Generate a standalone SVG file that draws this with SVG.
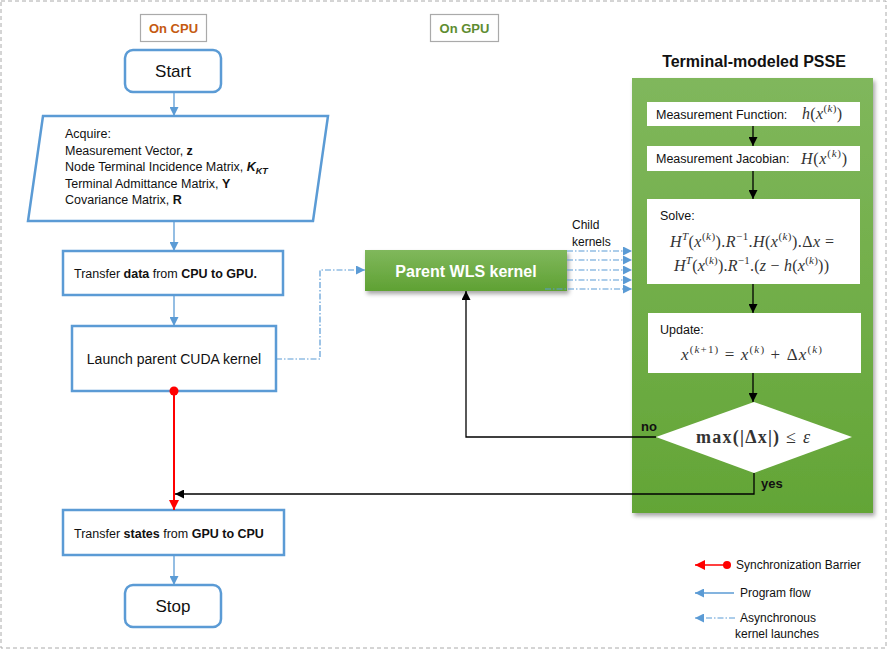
<svg xmlns="http://www.w3.org/2000/svg" width="890" height="650" viewBox="0 0 890 650">
<defs>
<style>
text{font-family:"Liberation Sans",Arial,sans-serif;fill:#111}
.b{font-weight:bold}
.lbl{font-size:12.5px}
.m{font-family:"Liberation Serif","Times New Roman",serif;font-size:16px;fill:#333}
.i{font-style:italic}
.sup{font-size:11px}
.flow{fill:#fff;stroke:#5B9BD5;stroke-width:2.5}
.cpuline{stroke:#5B9BD5;stroke-width:1.3;fill:none}
.dd{stroke:#5B9BD5;stroke-width:1.2;fill:none;stroke-dasharray:6 2 1.5 2}
.blk{stroke:#000;stroke-width:1.3;fill:none}
.wbox{fill:#fff}
</style>
<marker id="ab" viewBox="0 0 10 10" refX="10" refY="5" markerWidth="9" markerHeight="9" markerUnits="userSpaceOnUse" orient="auto"><path d="M0,0L10,5L0,10z" fill="#5B9BD5"/></marker>
<marker id="ak" viewBox="0 0 10 10" refX="10" refY="5" markerWidth="9" markerHeight="9" markerUnits="userSpaceOnUse" orient="auto"><path d="M0,0L10,5L0,10z" fill="#000"/></marker>
<marker id="ar" viewBox="0 0 10 10" refX="10" refY="5" markerWidth="10" markerHeight="10" markerUnits="userSpaceOnUse" orient="auto"><path d="M0,0L10,5L0,10z" fill="#FF0000"/></marker>
<linearGradient id="gp" x1="0" y1="0" x2="0" y2="1"><stop offset="0" stop-color="#80B85C"/><stop offset="1" stop-color="#5FA133"/></linearGradient>
<linearGradient id="gb" x1="0" y1="0" x2="0" y2="1"><stop offset="0" stop-color="#80B75C"/><stop offset="1" stop-color="#63A536"/></linearGradient>
<filter id="sh" x="-10%" y="-10%" width="130%" height="130%"><feDropShadow dx="2" dy="3" stdDeviation="2" flood-color="#000" flood-opacity="0.35"/></filter>
</defs>

<rect x="1" y="1" width="885" height="647" fill="#fff" stroke="#AAAAAA" stroke-width="1" stroke-dasharray="4 3"/>

<g id="label-cpu"><rect x="140.5" y="14.5" width="66" height="27" fill="#fff" stroke="#AAAAAA" stroke-width="1.2"/><text x="173.5" y="33" text-anchor="middle" class="b" font-size="13" style="fill:#C55A11">On CPU</text></g>
<g id="label-gpu"><rect x="430.5" y="14.5" width="68" height="27" fill="#fff" stroke="#AAAAAA" stroke-width="1.2"/><text x="464.5" y="33" text-anchor="middle" class="b" font-size="13" style="fill:#5E8C31">On GPU</text></g>

<g id="start"><rect class="flow" x="125" y="50" width="96" height="42" rx="8"/><text x="173" y="77" text-anchor="middle" font-size="17">Start</text></g>

<g id="acquire"><path class="flow" d="M43,116 L328,116 L313,221 L28,221 Z"/>
<text class="lbl" x="65" y="138">Acquire:</text>
<text class="lbl" x="65" y="155">Measurement Vector, <tspan class="b">z</tspan></text>
<text class="lbl" x="65" y="171">Node Terminal  Incidence Matrix, <tspan class="b i">K</tspan><tspan class="b i" font-size="9" dy="3">KT</tspan></text>
<text class="lbl" x="65" y="188">Terminal Admittance Matrix, <tspan class="b">Y</tspan></text>
<text class="lbl" x="65" y="204">Covariance Matrix, <tspan class="b">R</tspan></text>
</g>

<g id="transfer-in"><rect class="flow" x="63" y="251" width="220" height="44"/><text class="lbl" x="74" y="278">Transfer <tspan class="b">data</tspan> from <tspan class="b">CPU to GPU.</tspan></text></g>

<g id="launch"><rect class="flow" x="72" y="326" width="204" height="65"/><text x="174" y="364" text-anchor="middle" font-size="14">Launch parent CUDA kernel</text></g>

<g id="transfer-out"><rect class="flow" x="63" y="510" width="221" height="45"/><text class="lbl" x="74" y="538">Transfer <tspan class="b">states</tspan> from <tspan class="b">GPU to CPU</tspan></text></g>

<g id="stop"><rect class="flow" x="125" y="585" width="96" height="42" rx="8"/><text x="173" y="612" text-anchor="middle" font-size="17">Stop</text></g>

<g id="parent-kernel"><rect x="365" y="250" width="202" height="41" fill="url(#gp)" filter="url(#sh)"/><text x="466" y="277" text-anchor="middle" class="b" font-size="16" style="fill:#fff">Parent WLS kernel</text></g>

<g id="child-label"><text x="572" y="229" font-size="12">Child</text><text x="572" y="246" font-size="12">kernels</text></g>

<g id="psse">
<text x="754" y="67" text-anchor="middle" class="b" font-size="16">Terminal-modeled PSSE</text>
<rect x="632" y="78" width="241" height="435" fill="url(#gb)" filter="url(#sh)"/>
</g>

<g id="meas-func"><rect class="wbox" x="647" y="102" width="213" height="24"/>
<text class="lbl" x="656" y="119">Measurement Function:</text>
<text class="m" x="802" y="119" textLength="40" lengthAdjust="spacing"><tspan class="i">h</tspan>(<tspan class="i">x</tspan><tspan class="sup" dy="-7">(<tspan class="i">k</tspan>)</tspan><tspan dy="7">)</tspan></text>
</g>

<g id="meas-jac"><rect class="wbox" x="647" y="146" width="213" height="25"/>
<text class="lbl" x="656" y="163">Measurement Jacobian:</text>
<text class="m" x="801" y="164" textLength="46" lengthAdjust="spacing"><tspan class="i">H</tspan>(<tspan class="i">x</tspan><tspan class="sup" dy="-7">(<tspan class="i">k</tspan>)</tspan><tspan dy="7">)</tspan></text>
</g>

<g id="solve"><rect class="wbox" x="647" y="199" width="213" height="85"/>
<text class="lbl" x="660" y="220">Solve:</text>
<text class="m" x="670" y="247" textLength="164" lengthAdjust="spacing"><tspan class="i">H</tspan><tspan class="sup i" dy="-7">T</tspan><tspan dy="7">(</tspan><tspan class="i">x</tspan><tspan class="sup" dy="-7">(<tspan class="i">k</tspan>)</tspan><tspan dy="7">).</tspan><tspan class="i">R</tspan><tspan class="sup" dy="-7">−1</tspan><tspan dy="7">.</tspan><tspan class="i">H</tspan>(<tspan class="i">x</tspan><tspan class="sup" dy="-7">(<tspan class="i">k</tspan>)</tspan><tspan dy="7">).Δ</tspan><tspan class="i">x</tspan> =</text>
<text class="m" x="674" y="271" textLength="155" lengthAdjust="spacing"><tspan class="i">H</tspan><tspan class="sup i" dy="-7">T</tspan><tspan dy="7">(</tspan><tspan class="i">x</tspan><tspan class="sup" dy="-7">(<tspan class="i">k</tspan>)</tspan><tspan dy="7">).</tspan><tspan class="i">R</tspan><tspan class="sup" dy="-7">−1</tspan><tspan dy="7">.(</tspan><tspan class="i">z</tspan> − <tspan class="i">h</tspan>(<tspan class="i">x</tspan><tspan class="sup" dy="-7">(<tspan class="i">k</tspan>)</tspan><tspan dy="7">))</tspan></text>
</g>

<g id="update"><rect class="wbox" x="648" y="313" width="213" height="60"/>
<text class="lbl" x="660" y="334">Update:</text>
<text class="m" x="681" y="360" style="font-size:17px" textLength="141" lengthAdjust="spacing"><tspan class="i">x</tspan><tspan class="sup" dy="-7">(<tspan class="i">k</tspan>+1)</tspan><tspan dy="7"> = </tspan><tspan class="i">x</tspan><tspan class="sup" dy="-7">(<tspan class="i">k</tspan>)</tspan><tspan dy="7"> + Δ</tspan><tspan class="i">x</tspan><tspan class="sup" dy="-7">(<tspan class="i">k</tspan>)</tspan></text>
</g>

<g id="decision"><path d="M754,402 L852,437 L754,473 L656,437 Z" fill="#fff"/>
<text class="m" x="696" y="443" style="font-size:18px" textLength="114" lengthAdjust="spacing"><tspan font-weight="bold">max(|Δx|)</tspan> ≤ <tspan class="i">ε</tspan></text>
</g>

<g id="connectors">
<line class="cpuline" x1="174" y1="92" x2="174" y2="116" marker-end="url(#ab)"/>
<line class="cpuline" x1="174" y1="221" x2="174" y2="251" marker-end="url(#ab)"/>
<line class="cpuline" x1="174" y1="295" x2="174" y2="326" marker-end="url(#ab)"/>
<line class="cpuline" x1="174" y1="555" x2="174" y2="585" marker-end="url(#ab)"/>
<line x1="174" y1="391" x2="174" y2="510" stroke="#FF0000" stroke-width="2" marker-end="url(#ar)"/>
<circle cx="174" cy="391" r="4.5" fill="#FF0000"/>
<polyline class="dd" points="276,359 320,359 320,270 365,270" marker-end="url(#ab)"/>
<line class="dd" x1="567" y1="251" x2="632" y2="251" marker-end="url(#ab)"/>
<line class="dd" x1="567" y1="260" x2="632" y2="260" marker-end="url(#ab)"/>
<line class="dd" x1="567" y1="270" x2="632" y2="270" marker-end="url(#ab)"/>
<line class="dd" x1="567" y1="280" x2="632" y2="280" marker-end="url(#ab)"/>
<line class="dd" x1="545" y1="289" x2="632" y2="289" marker-end="url(#ab)"/>
<line class="blk" x1="753" y1="126" x2="753" y2="146" marker-end="url(#ak)"/>
<line class="blk" x1="753" y1="171" x2="753" y2="199" marker-end="url(#ak)"/>
<line class="blk" x1="753" y1="284" x2="753" y2="313" marker-end="url(#ak)"/>
<line class="blk" x1="753" y1="373" x2="753" y2="402" marker-end="url(#ak)"/>
<polyline class="blk" points="656,437 466,437 466,291" marker-end="url(#ak)"/>
<polyline class="blk" points="754,473 754,494 175,494" marker-end="url(#ak)"/>
<text x="641" y="431" class="b" font-size="13">no</text>
<text x="761" y="488" class="b" font-size="13">yes</text>
</g>

<g id="legend">
<line x1="727" y1="565" x2="695" y2="565" stroke="#FF0000" stroke-width="1.5" marker-end="url(#ar)"/>
<circle cx="727" cy="565" r="4" fill="#FF0000"/>
<text x="736" y="569" font-size="12">Synchronization Barrier</text>
<line class="cpuline" x1="734" y1="593" x2="695" y2="593" marker-end="url(#ab)"/>
<text x="740" y="597" font-size="12">Program flow</text>
<line class="dd" x1="735" y1="618" x2="695" y2="618" marker-end="url(#ab)"/>
<text x="740" y="622" font-size="12">Asynchronous</text>
<text x="735" y="638" font-size="12">kernel launches</text>
</g>
</svg>
